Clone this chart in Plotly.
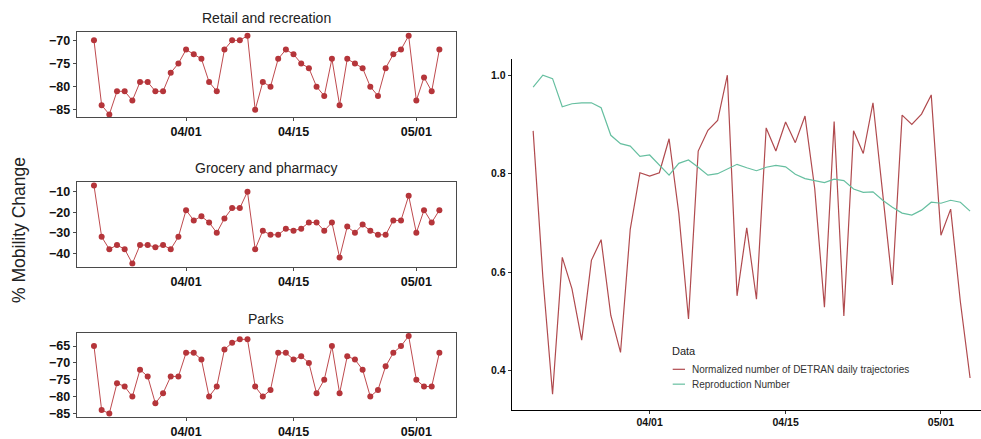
import pandas as pd
import plotly.graph_objects as go

dates = pd.date_range("2020-03-20", "2020-05-04", freq="D")

retail = [-70, -84, -86, -81, -81, -83, -79, -79, -81, -81, -77, -75, -72, -73, -74, -79,
          -81, -72, -70, -70, -69, -85, -79, -80, -74, -72, -73, -75, -76, -80, -82, -74,
          -84, -74, -75, -76, -80, -82, -76, -73, -72, -69, -83, -78, -81, -72]
grocery = [-7, -32, -38, -36, -38, -45, -36, -36, -37, -36, -38, -32, -19, -24, -22, -25,
           -30, -23, -18, -18, -10, -38, -29, -31, -31, -28, -29, -28, -25, -25, -29, -25,
           -42, -27, -30, -26, -29, -31, -31, -24, -24, -12, -30, -19, -25, -19]
parks = [-65, -84, -85, -76, -77, -80, -72, -74, -82, -79, -74, -74, -67, -67, -69, -80,
         -77, -66, -64, -63, -63, -77, -80, -78, -67, -67, -69, -68, -70, -79, -75, -65,
         -79, -68, -69, -72, -80, -78, -71, -67, -65, -62, -75, -77, -77, -67]

detran = [0.887, 0.59, 0.352, 0.630, 0.566, 0.462, 0.624, 0.666, 0.512, 0.437, 0.687, 0.802,
          0.795, 0.802, 0.871, 0.72, 0.505, 0.846, 0.888, 0.908, 1.0, 0.552, 0.69, 0.545,
          0.893, 0.846, 0.905, 0.863, 0.917, 0.77, 0.529, 0.906, 0.511, 0.887, 0.841, 0.944,
          0.76, 0.574, 0.919, 0.90, 0.921, 0.960, 0.675, 0.728, 0.54, 0.385]
rnum = [0.976, 1.0, 0.993, 0.936, 0.942, 0.944, 0.944, 0.934, 0.878, 0.861, 0.856, 0.835,
        0.838, 0.817, 0.797, 0.821, 0.828, 0.813, 0.797, 0.800, 0.809, 0.819, 0.812, 0.806,
        0.813, 0.817, 0.814, 0.799, 0.790, 0.786, 0.782, 0.789, 0.786, 0.769, 0.762, 0.763,
        0.746, 0.732, 0.720, 0.716, 0.726, 0.742, 0.740, 0.746, 0.742, 0.724]

panel_titles = ["Retail and recreation", "Grocery and pharmacy", "Parks"]
panel_ticks = [[-85, -80, -75, -70], [-40, -30, -20, -10], [-85, -80, -75, -70, -65]]
panel_ranges = [[-86.6, -68.2], [-46.6, -5.3], [-86.1, -61.0]]
r_ticks = [0.4, 0.6, 0.8, 1.0]
date_ticks = ["2020-04-01", "2020-04-15", "2020-05-01"]
date_ticktext = ["04/01", "04/15", "05/01"]
legend_labels = ["Normalized number of DETRAN daily trajectories", "Reproduction Number"]

RED = "#B5353A"
RED_LINE = "#BE4A4E"
GREEN = "#66BFA0"
FONT = "Liberation Sans, Arial, sans-serif"
W, H = 981, 439

fig = go.Figure()

left_x = [76.7 / W, 456 / W]
left_y = [(118.3, 32.3), (269.3, 183.7), (421, 335.7)]
x_range_left = ["2020-03-17 18:00", "2020-05-06 04:00"]

for k, series in enumerate([retail, grocery, parks]):
    n = "" if k == 0 else str(k + 1)
    fig.add_trace(go.Scatter(
        x=dates, y=series, mode="lines+markers", showlegend=False,
        line=dict(color=RED_LINE, width=1),
        marker=dict(color=RED, size=6),
        xaxis="x" + n, yaxis="y" + n))
    yb, yt = left_y[k]
    fig.layout["xaxis" + n] = dict(
        domain=left_x, anchor="y" + n, range=x_range_left, type="date",
        tickvals=date_ticks, ticktext=date_ticktext,
        showgrid=False, zeroline=False, showline=True, mirror=True,
        linecolor="#4a4a4a", linewidth=1, ticks="outside", ticklen=3,
        tickcolor="#4a4a4a",
        tickfont=dict(family=FONT, size=12.5, color="#111", weight="bold"))
    fig.layout["yaxis" + n] = dict(
        domain=[1 - yb / H, 1 - yt / H], anchor="x" + n, range=panel_ranges[k],
        tickvals=panel_ticks[k],
        ticktext=[("\u2212" + str(-v)) if v < 0 else str(v) for v in panel_ticks[k]],
        showgrid=False, zeroline=False, showline=True, mirror=True,
        linecolor="#4a4a4a", linewidth=1, ticks="outside", ticklen=3,
        tickcolor="#4a4a4a",
        tickfont=dict(family=FONT, size=12.5, color="#111", weight="bold"))
    fig.add_annotation(
        text=panel_titles[k], xref="paper", yref="paper",
        x=(left_x[0] + left_x[1]) / 2, y=1 - (yt - 14) / H,
        xanchor="center", yanchor="middle", showarrow=False,
        font=dict(family=FONT, size=14, color="#222"))

# Right panel
fig.add_trace(go.Scatter(x=dates, y=detran, mode="lines", name=legend_labels[0],
                         showlegend=False, line=dict(color="#B04A4E", width=1.2),
                         xaxis="x4", yaxis="y4"))
fig.add_trace(go.Scatter(x=dates, y=rnum, mode="lines", name=legend_labels[1],
                         showlegend=False, line=dict(color=GREEN, width=1.2),
                         xaxis="x4", yaxis="y4"))
fig.layout["xaxis4"] = dict(
    domain=[511.7 / W, 1.0], anchor="y4", type="date",
    range=["2020-03-17 19:00", "2020-05-05 03:00"],
    tickvals=date_ticks, ticktext=date_ticktext,
    showgrid=False, zeroline=False, showline=True, linecolor="#000", linewidth=1,
    ticks="outside", ticklen=3, tickcolor="#333",
    tickfont=dict(family=FONT, size=10.5, color="#111", weight="bold"))
fig.layout["yaxis4"] = dict(
    domain=[1 - 413.3 / H, 1 - 60 / H], anchor="x4", range=[0.321, 1.032],
    tickvals=r_ticks, ticktext=[f"{v:.1f}" for v in r_ticks],
    showgrid=False, zeroline=False, showline=True, linecolor="#000", linewidth=1,
    ticks="outside", ticklen=3, tickcolor="#333",
    tickfont=dict(family=FONT, size=10.5, color="#111", weight="bold"))

# Legend (drawn manually to match compact ggplot-style keys)
fig.add_annotation(text="Data", xref="paper", yref="paper", x=670 / W, y=1 - 354 / H,
                   xanchor="left", yanchor="middle", showarrow=False,
                   font=dict(family=FONT, size=11, color="#222"))
for j, (lab, col) in enumerate(zip(legend_labels, ["#B04A4E", GREEN])):
    yy = 1 - (372.7 + 15 * j) / H
    fig.add_shape(type="line", xref="paper", yref="paper",
                  x0=672.7 / W, x1=685 / W, y0=yy, y1=yy,
                  line=dict(color=col, width=1.2))
    fig.add_annotation(text=lab, xref="paper", yref="paper", x=690 / W, y=yy,
                       xanchor="left", yanchor="middle", showarrow=False,
                       font=dict(family=FONT, size=10, color="#333"))

fig.add_annotation(text="% Mobility Change", xref="paper", yref="paper",
                   x=19 / W, y=1 - 232 / H, textangle=-90, showarrow=False,
                   xanchor="center", yanchor="middle",
                   font=dict(family=FONT, size=17.5, color="#222"))

fig.update_layout(width=W, height=H, margin=dict(l=0, r=0, t=0, b=0),
                  plot_bgcolor="white", paper_bgcolor="white",
                  font=dict(family=FONT))
fig.write_html("out.html")
